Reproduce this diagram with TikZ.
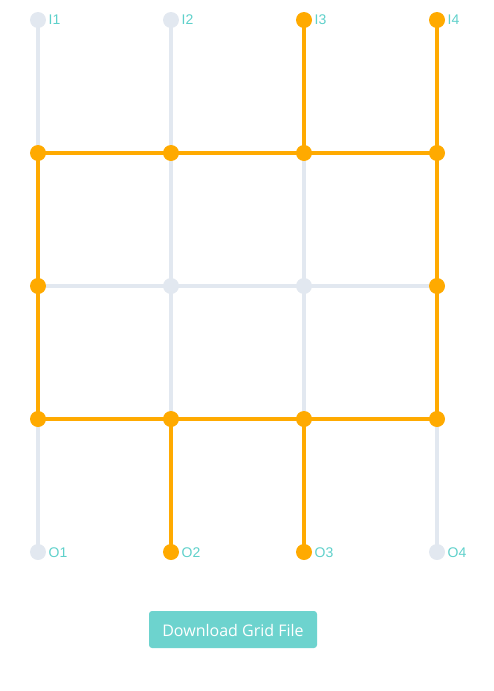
\documentclass[tikz,border=0pt]{standalone}
\usepackage{fontspec}
\setmainfont{Liberation Sans}
\newfontfamily\btnfont{Open Sans}
\definecolor{og}{HTML}{FFAA00}
\definecolor{gr}{HTML}{E2E8F0}
\definecolor{tl}{HTML}{5ED0CA}
\definecolor{btn}{HTML}{6DD3CE}
\begin{document}
\begin{tikzpicture}[x=1pt,y=-1pt,
  dot/.style={circle,inner sep=0pt,minimum size=16pt},
  gdot/.style={dot,fill=gr},
  odot/.style={dot,fill=og},
  gedge/.style={draw=gr,line width=4pt},
  oedge/.style={draw=og,line width=4pt},
  lbl/.style={anchor=west,text=tl,font=\fontsize{14}{14}\selectfont,inner sep=0pt}]
\useasboundingbox (0,0) rectangle (493,691);
% coordinates
\foreach \c/\x in {1/38,2/171,3/304,4/437}{
  \foreach \r/\y in {0/20,1/153,2/286,3/419,4/552}{
    \coordinate (p\c\r) at (\x,\y);
  }}
% gray edges
\foreach \a/\b in {p10/p11,p20/p21,p21/p22,p22/p23,p31/p32,p32/p33,p13/p14,p43/p44,p12/p22,p22/p32,p32/p42}
  \draw[gedge] (\a) -- (\b);
% orange edges
\foreach \a/\b in {p11/p12,p12/p13,p23/p24,p30/p31,p33/p34,p40/p41,p41/p42,p42/p43,p11/p21,p21/p31,p31/p41,p13/p23,p23/p33,p33/p43}
  \draw[oedge] (\a) -- (\b);
% nodes
\foreach \n in {p10,p20,p14,p44,p22,p32}
  \node[gdot] (n\n) at (\n) {};
\foreach \n in {p30,p40,p11,p21,p31,p41,p12,p42,p13,p23,p33,p43,p24,p34}
  \node[odot] (n\n) at (\n) {};
% labels
\node[lbl] (lI1) at (48.5,19.5) {I1};
\node[lbl] (lI2) at (181.5,19.5) {I2};
\node[lbl] (lI3) at (314.5,19.5) {I3};
\node[lbl] (lI4) at (447.5,19.5) {I4};
\node[lbl] (lO1) at (48.5,552.5) {O1};
\node[lbl] (lO2) at (181.5,552.5) {O2};
\node[lbl] (lO3) at (314.5,552.5) {O3};
\node[lbl] (lO4) at (447.5,552.5) {O4};
% button
\fill[btn,rounded corners=3pt] (149,611) rectangle (317,648);
\node[text=white,font=\btnfont\fontsize{16}{16}\selectfont] (btn) at (233,630) {Download Grid File};
\end{tikzpicture}
\end{document}
